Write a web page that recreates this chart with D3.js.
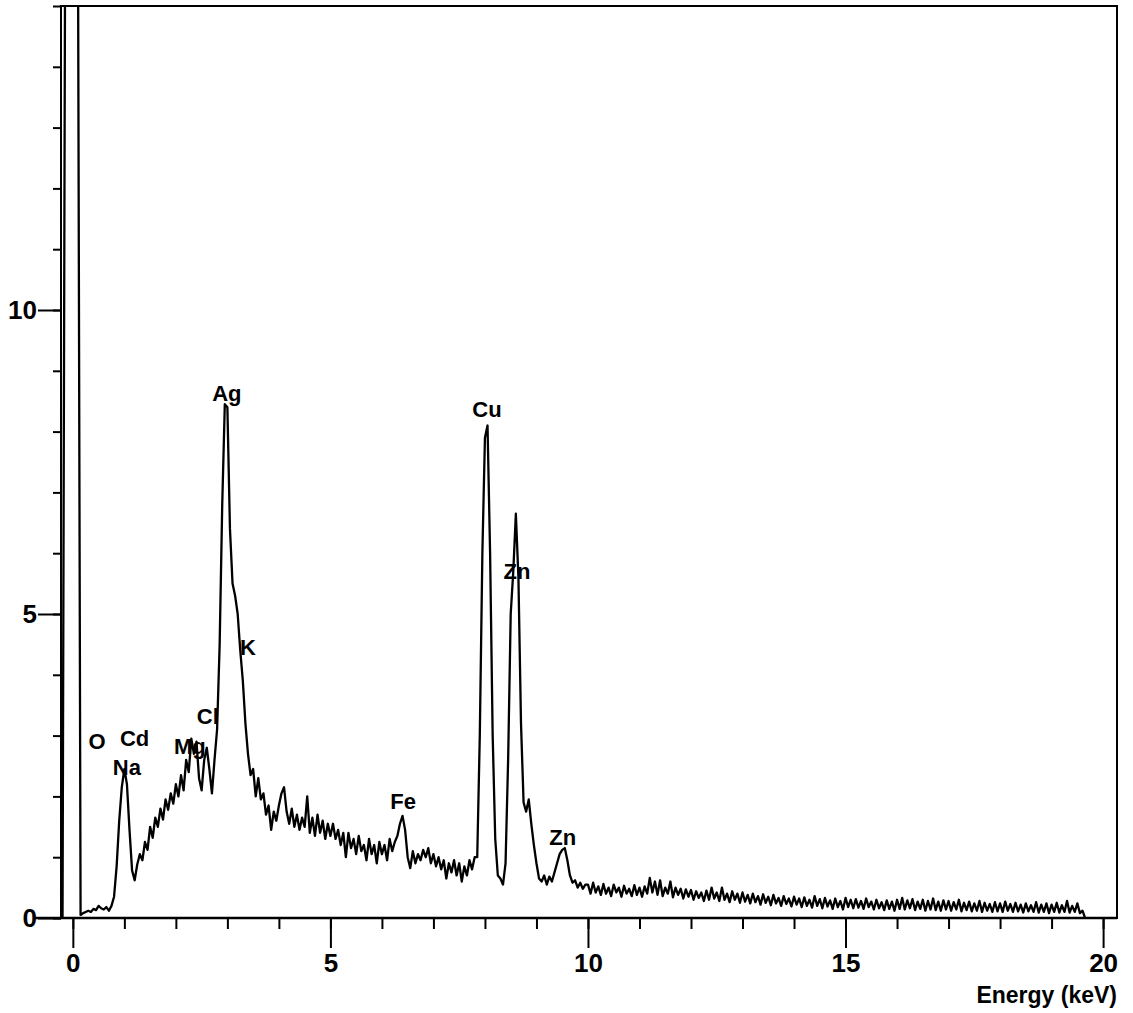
<!DOCTYPE html>
<html><head><meta charset="utf-8">
<script src="https://cdn.jsdelivr.net/npm/d3@7"></script>
<style>body{margin:0;background:#fff}svg{display:block}</style>
</head><body>
<svg id="chart" width="1133" height="1013"></svg>
<script>
// EDS spectrum: channel calibration and counts (x1000 cps)
const channelStart = -0.2;   // keV
const channelWidth = 0.05;   // keV
const counts = [
  0,16,16,16,
  16,16,16,0.05,0.08,0.1,0.12,0.1,0.15,0.13,0.2,0.16,0.14,0.18,0.12,0.2,0.35,0.85,1.6,2.15,
  2.45,2.2,1.45,0.78,0.62,0.88,1.05,0.95,1.25,1.12,1.5,1.32,1.65,1.5,1.8,1.62,1.95,1.78,2.05,1.88,
  2.2,2.0,2.35,2.1,2.6,2.4,2.95,2.7,2.9,2.3,2.1,2.6,2.8,2.45,2.05,2.6,3.1,4.5,6.8,8.45,
  8.4,6.4,5.5,5.3,5.0,4.4,3.9,3.2,2.7,2.35,2.45,2.0,2.3,1.95,2.05,1.7,1.85,1.45,1.75,1.6,
  1.85,2.05,2.15,1.75,1.55,1.8,1.5,1.7,1.45,1.65,1.5,2.0,1.4,1.65,1.35,1.7,1.4,1.6,1.3,1.55,
  1.35,1.55,1.3,1.45,1.2,1.4,1.0,1.4,1.15,1.3,1.05,1.35,1.1,1.2,0.95,1.3,1.05,1.2,0.9,1.25,
  1.05,1.2,0.95,1.3,1.1,1.25,1.35,1.55,1.68,1.45,1.0,0.82,1.1,0.9,1.05,0.95,1.12,1.0,1.15,0.9,
  1.05,0.85,1.0,0.8,0.95,0.65,0.9,0.75,0.95,0.7,0.9,0.6,0.85,0.7,0.95,0.8,1.0,1.0,3.0,6.0,
  7.9,8.1,6.0,3.0,1.3,0.7,0.65,0.55,0.9,2.6,5.0,5.7,6.65,5.6,3.2,1.9,1.75,1.95,1.55,1.2,
  0.9,0.65,0.6,0.7,0.55,0.68,0.6,0.75,0.9,1.05,1.12,1.15,0.95,0.7,0.58,0.62,0.5,0.58,0.48,0.55,
  0.55,0.4,0.58,0.42,0.52,0.38,0.56,0.4,0.5,0.36,0.55,0.42,0.5,0.35,0.53,0.4,0.48,0.36,0.54,0.38,
  0.5,0.35,0.52,0.4,0.66,0.42,0.6,0.38,0.62,0.36,0.5,0.4,0.6,0.34,0.5,0.38,0.48,0.32,0.47,0.35,
  0.46,0.3,0.44,0.33,0.42,0.28,0.45,0.3,0.5,0.32,0.42,0.28,0.5,0.3,0.4,0.26,0.44,0.3,0.4,0.25,
  0.42,0.27,0.38,0.24,0.4,0.26,0.36,0.22,0.39,0.25,0.35,0.21,0.38,0.24,0.33,0.2,0.36,0.23,0.32,0.19,
  0.35,0.22,0.32,0.18,0.34,0.2,0.3,0.17,0.36,0.2,0.31,0.16,0.33,0.19,0.29,0.15,0.32,0.18,0.28,0.14,
  0.33,0.18,0.3,0.16,0.31,0.17,0.28,0.15,0.32,0.18,0.27,0.14,0.3,0.16,0.26,0.13,0.29,0.15,0.27,0.12,
  0.3,0.15,0.33,0.14,0.29,0.16,0.31,0.13,0.27,0.15,0.3,0.12,0.28,0.14,0.32,0.13,0.27,0.12,0.29,0.14,
  0.28,0.12,0.26,0.14,0.3,0.11,0.25,0.13,0.27,0.11,0.24,0.12,0.28,0.1,0.25,0.12,0.23,0.1,0.26,0.11,
  0.24,0.1,0.27,0.12,0.23,0.1,0.25,0.11,0.22,0.09,0.24,0.11,0.21,0.1,0.26,0.09,0.22,0.1,0.24,0.08,
  0.22,0.1,0.25,0.09,0.21,0.1,0.28,0.09,0.2,0.1,0.24,0.08,0.12,0
];

// Peak labels
const peakNames    = ["Ag","Cu","Zn","K","Cl","Mg","O","Cd","Na","Fe","Zn"];
const peakEnergies = [2.99,8.04,8.62,3.4,2.62,2.27,0.47,1.2,1.05,6.41,9.51];
const peakHeights  = [8.62,8.37,5.70,4.45,3.31,2.82,2.90,2.95,2.47,1.91,1.32];

// Axis ticks
const xMajorTicks = [0,5,10,15,20];
const xMinorTicks = d3.range(0,21,1);
const yMajorTicks = [0,5,10];
const yMinorTicks = d3.range(0,16,1);
const xTitle = "Energy (keV)";

const svg = d3.select("#chart");
const L = 61, R = 1117, T = 6, B = 918;
const x = d3.scaleLinear().domain([-0.23, 20.27]).range([L, R]);
const y = d3.scaleLinear().domain([0, 15]).range([B, T]);

const data = counts.map((c,i)=>({e: channelStart + i*channelWidth, c}));

svg.append("clipPath").attr("id","clip").append("rect")
  .attr("x",L).attr("y",T).attr("width",R-L).attr("height",B-T);

svg.append("path").datum(data)
  .attr("clip-path","url(#clip)")
  .attr("fill","none").attr("stroke","#000").attr("stroke-width",2.3)
  .attr("stroke-linejoin","round")
  .attr("d", d3.line().x(d=>x(d.e)).y(d=>y(d.c)));

const font = "'Liberation Sans', Arial, sans-serif";

// x axis
const gx1 = svg.append("g").attr("transform",`translate(0,${B})`)
  .call(d3.axisBottom(x).tickValues(xMinorTicks).tickSize(11).tickFormat(""));
const gx2 = svg.append("g").attr("transform",`translate(0,${B})`)
  .call(d3.axisBottom(x).tickValues(xMajorTicks).tickSize(30).tickPadding(6).tickFormat(d3.format("d")));
// y axis
const gy1 = svg.append("g").attr("transform",`translate(${L},0)`)
  .call(d3.axisLeft(y).tickValues(yMinorTicks).tickSize(8).tickFormat(""));
const gy2 = svg.append("g").attr("transform",`translate(${L},0)`)
  .call(d3.axisLeft(y).tickValues(yMajorTicks).tickSize(23).tickPadding(1).tickFormat(d3.format("d")));

[gx1,gx2,gy1,gy2].forEach(g=>{
  g.select(".domain").remove();
  g.selectAll(".tick line").attr("stroke","#000").attr("stroke-width",2);
  g.selectAll(".tick text").attr("fill","#000").style("font-family",font)
    .style("font-size","26px").style("font-weight","bold");
});

// frame
svg.append("rect").attr("x",L).attr("y",T).attr("width",R-L).attr("height",B-T)
  .attr("fill","none").attr("stroke","#000").attr("stroke-width",2);
// extended baseline
svg.append("line").attr("x1",35).attr("x2",R).attr("y1",B).attr("y2",B)
  .attr("stroke","#000").attr("stroke-width",2.5);

// x title
svg.append("text").attr("x",R).attr("y",1003).attr("text-anchor","end")
  .style("font-family",font).style("font-size","23px").style("font-weight","bold")
  .text(xTitle);

// peak labels
svg.append("g").selectAll("text").data(peakNames).join("text")
  .attr("x",(d,i)=>x(peakEnergies[i])).attr("y",(d,i)=>y(peakHeights[i]))
  .attr("text-anchor","middle").attr("dominant-baseline","central")
  .style("font-family",font).style("font-size","22px").style("font-weight","bold")
  .text(d=>d);
</script>
</body></html>
